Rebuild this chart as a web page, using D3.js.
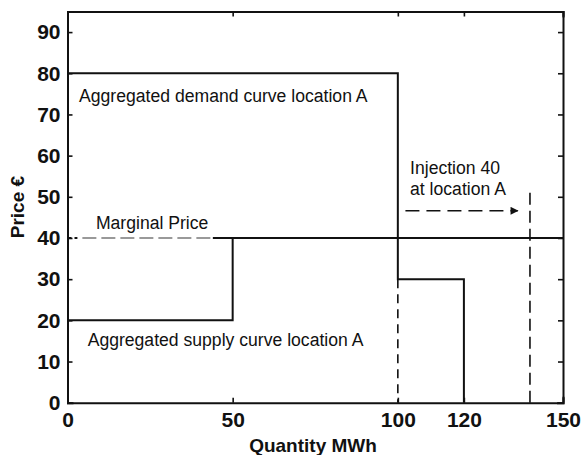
<!DOCTYPE html>
<html>
<head>
<meta charset="utf-8">
<script src="https://cdn.jsdelivr.net/npm/d3@7"></script>
<style>
  html, body { margin: 0; padding: 0; background: #fff; }
  svg { display: block; }
  .tick text { font-family: "Liberation Sans", Arial, sans-serif; font-weight: bold; font-size: 21px; fill: #111; }
  .ann { font-family: "Liberation Sans", Arial, sans-serif; font-size: 17.6px; fill: #111; }
</style>
</head>
<body>
<svg id="chart" width="583" height="455"></svg>
<script>
// Quantity (MWh) and price (€) steps of the two aggregated curves
const demandQty   = [0, 100, 100, 120, 120];
const demandPrice = [80, 80, 30, 30, 0];
const supplyQty   = [0, 50, 50, 150];
const supplyPrice = [20, 20, 40, 40];

const marginalPrice = 40;
const injectionFrom = 100;
const injectionTo   = 140;   // 40 MWh injected at location A

const xTicks = [0, 50, 100, 120, 150];
const yTicks = [0, 10, 20, 30, 40, 50, 60, 70, 80, 90];

const svg = d3.select("#chart");
const x = d3.scaleLinear().domain([0, 150]).range([67.5, 563]);
const y = d3.scaleLinear().domain([0, 95]).range([402.7, 11.5]);

const line = d3.line().x(d => x(d[0])).y(d => y(d[1]));
const ink = "#111";

// Frame with inward ticks on all four sides
const axB = d3.axisBottom(x).tickValues(xTicks).tickSize(-5).tickPadding(9).tickFormat(d3.format("d"));
const axT = d3.axisTop(x).tickValues(xTicks).tickSize(-5).tickFormat("");
const axL = d3.axisLeft(y).tickValues(yTicks).tickSize(-5).tickPadding(7).tickFormat(d3.format("d"));
const axR = d3.axisRight(y).tickValues(yTicks).tickSize(-5).tickFormat("");

function styleAxis(g) {
  g.select(".domain").attr("stroke", ink).attr("stroke-width", 2);
  g.selectAll(".tick line").attr("stroke", ink).attr("stroke-width", 1.6);
}
svg.append("g").attr("transform", `translate(0,${y(0)})`).call(axB).call(styleAxis);
svg.append("g").attr("transform", `translate(0,${y(95)})`).call(axT).call(styleAxis);
svg.append("g").attr("transform", `translate(${x(0)},0)`).call(axL).call(styleAxis);
svg.append("g").attr("transform", `translate(${x(150)},0)`).call(axR).call(styleAxis);
svg.selectAll(".domain").attr("stroke-linecap", "square");

// Marginal price guide (dashed up to where the supply step rises)
svg.append("path")
  .attr("d", line([[0, marginalPrice], [3, marginalPrice]]))
  .attr("fill", "none").attr("stroke", ink).attr("stroke-width", 1.8)
  .attr("stroke-dasharray", "4,3");
svg.append("path")
  .attr("d", line([[4.5, marginalPrice], [44, marginalPrice]]))
  .attr("fill", "none").attr("stroke", "#999").attr("stroke-width", 1.8)
  .attr("stroke-dasharray", "14,5");
svg.append("path")
  .attr("d", line([[44, marginalPrice], [50, marginalPrice]]))
  .attr("fill", "none").attr("stroke", ink).attr("stroke-width", 2);

// Supply and demand step curves
svg.append("path")
  .attr("d", line(d3.zip(supplyQty, supplyPrice)))
  .attr("fill", "none").attr("stroke", ink).attr("stroke-width", 2);
svg.append("path")
  .attr("d", line(d3.zip(demandQty, demandPrice)))
  .attr("fill", "none").attr("stroke", ink).attr("stroke-width", 2);

// Dashed drop from the demand step to the quantity axis
svg.append("path")
  .attr("d", line([[injectionFrom, 30], [injectionFrom, 0]]))
  .attr("fill", "none").attr("stroke", ink).attr("stroke-width", 1.6)
  .attr("stroke-dasharray", "9,6");

// Injection marker at 140 MWh
svg.append("path")
  .attr("d", line([[injectionTo, 51], [injectionTo, 0]]))
  .attr("fill", "none").attr("stroke", ink).attr("stroke-width", 1.6)
  .attr("stroke-dasharray", "12,6");

// Dashed arrow showing the injected quantity
svg.append("defs").append("marker")
  .attr("id", "head").attr("viewBox", "0 0 10 10")
  .attr("refX", 9).attr("refY", 5)
  .attr("markerWidth", 10).attr("markerHeight", 8)
  .attr("markerUnits", "userSpaceOnUse").attr("orient", "auto")
  .append("path").attr("d", "M0,0L10,5L0,10Z").attr("fill", ink);
svg.append("path")
  .attr("d", line([[102.3, 46.6], [136.3, 46.6]]))
  .attr("fill", "none").attr("stroke", ink).attr("stroke-width", 1.6)
  .attr("stroke-dasharray", "14,7")
  .attr("marker-end", "url(#head)");

// Annotations
const notes = [
  { text: "Aggregated demand curve location A", q: 3.5, p: 73.0 },
  { text: "Aggregated supply curve location A", q: 6.1, p: 13.8 },
  { text: "Marginal Price", q: 8.6, p: 42.1 },
  { text: "Injection 40", q: 103.7, p: 55.5 },
  { text: "at location A", q: 103.7, p: 50.4 }
];
svg.selectAll("text.ann").data(notes).join("text")
  .attr("class", "ann")
  .attr("x", d => x(d.q)).attr("y", d => y(d.p))
  .text(d => d.text);

// Axis titles
svg.append("text")
  .attr("x", 313).attr("y", 452)
  .attr("text-anchor", "middle")
  .style("font-family", "'Liberation Sans', Arial, sans-serif")
  .style("font-weight", "bold").style("font-size", "19px").style("fill", ink)
  .text("Quantity MWh");
svg.append("text")
  .attr("transform", `translate(24,${y(47.5)}) rotate(-90)`)
  .attr("text-anchor", "middle")
  .style("font-family", "'Liberation Sans', Arial, sans-serif")
  .style("font-weight", "bold").style("font-size", "19px").style("fill", ink)
  .text("Price €");
</script>
</body>
</html>
